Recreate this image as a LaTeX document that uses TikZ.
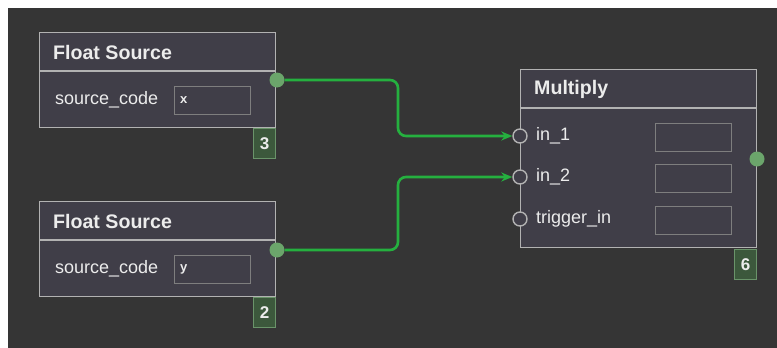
\documentclass[tikz,border=0pt]{standalone}
\usepackage{fontspec}
\setmainfont{Liberation Sans}
\usetikzlibrary{arrows.meta}
\definecolor{bgdark}{HTML}{353535}
\definecolor{nodefill}{HTML}{403E48}
\definecolor{nodeborder}{HTML}{B2B2B2}
\definecolor{fieldborder}{HTML}{7E7E7E}
\definecolor{txt}{HTML}{ECECEC}
\definecolor{portgreen}{HTML}{6BA56B}
\definecolor{wiregreen}{HTML}{25B03F}
\definecolor{badgefill}{HTML}{3C583C}
\definecolor{badgeborder}{HTML}{6A946A}
\tikzset{
  nodebox/.style={draw=nodeborder, fill=nodefill, line width=1.4pt, inner sep=0, anchor=north west},
  sepline/.style={draw=nodeborder, line width=1.4pt},
  titletext/.style={text=txt, font=\fontsize{19.6}{22}\selectfont\bfseries, inner sep=0, anchor=west},
  bodytext/.style={text=txt, font=\fontsize{18}{20}\selectfont, inner sep=0, anchor=west},
  field/.style={draw=fieldborder, fill=nodefill, line width=1.4pt, minimum width=76pt, minimum height=28pt, inner sep=0, anchor=north west},
  fieldtext/.style={text=txt, font=\fontsize{13}{15}\selectfont\bfseries, inner sep=0, anchor=west},
  outport/.style={circle, fill=portgreen, minimum size=15pt, inner sep=0},
  inport/.style={circle, draw=nodeborder, fill=nodefill, line width=1.4pt, minimum size=14pt, inner sep=0},
  badge/.style={draw=badgeborder, fill=badgefill, line width=1pt, minimum width=22pt, minimum height=30pt, inner sep=0, anchor=north east, text=txt, font=\fontsize{17}{20}\selectfont\bfseries},
  wire/.style={draw=wiregreen, line width=2.6pt, rounded corners=8pt, -{Stealth[length=11pt, width=9pt]}},
}
\begin{document}
\begin{tikzpicture}[x=1pt, y=-1pt]
\useasboundingbox (0,0) rectangle (777,348);
\fill[white] (0,0) rectangle (777,348);
\fill[bgdark] (8,8) rectangle (777,348);

% Float Source 1
\node[nodebox, minimum width=236pt, minimum height=95pt] (fs1) at (39,32) {};
\coordinate (fs1sl) at (39,71);
\coordinate (fs1sr) at (275,71);
\draw[sepline] (fs1sl) -- (fs1sr);
\node[titletext] (fs1t) at (53,52) {Float Source};
\node[bodytext] (fs1l) at (55,100) {source\_code};
\node[field] (fs1f) at (174,86) {};
\node[fieldtext] (fs1x) at (180,100) {x};
\node[badge] (fs1b) at (276,128) {3};

% Float Source 2
\node[nodebox, minimum width=236pt, minimum height=95pt] (fs2) at (39,201) {};
\coordinate (fs2sl) at (39,240);
\coordinate (fs2sr) at (275,240);
\draw[sepline] (fs2sl) -- (fs2sr);
\node[titletext] (fs2t) at (53,221) {Float Source};
\node[bodytext] (fs2l) at (55,269) {source\_code};
\node[field] (fs2f) at (174,255) {};
\node[fieldtext] (fs2x) at (180,269) {y};
\node[badge] (fs2b) at (276,297) {2};

% Multiply
\node[nodebox, minimum width=236pt, minimum height=178pt] (mul) at (520,69) {};
\coordinate (mulsl) at (520,108);
\coordinate (mulsr) at (756,108);
\draw[sepline] (mulsl) -- (mulsr);
\node[titletext] (mult) at (534,89) {Multiply};
\node[bodytext] (l1) at (536,136) {in\_1};
\node[bodytext] (l2) at (536,177) {in\_2};
\node[bodytext] (l3) at (536,219) {trigger\_in};
\node[field] (f1) at (655,123) {};
\node[field] (f2) at (655,164) {};
\node[field] (f3) at (655,206) {};
\node[badge] (mulb) at (757,249) {6};

% ports
\node[inport] (in1) at (520,136) {};
\node[inport] (in2) at (520,177) {};
\node[inport] (in3) at (520,219) {};
\node[outport] (mulo) at (757,159) {};
\node[outport] (fs1o) at (277,80) {};
\node[outport] (fs2o) at (277,250) {};

% wires
\coordinate (c1) at (398,108);
\coordinate (c2) at (398,210);
\draw[wire] (fs1o) -| (c1) |- (in1);
\draw[wire] (fs2o) -| (c2) |- (in2);
\end{tikzpicture}
\end{document}
